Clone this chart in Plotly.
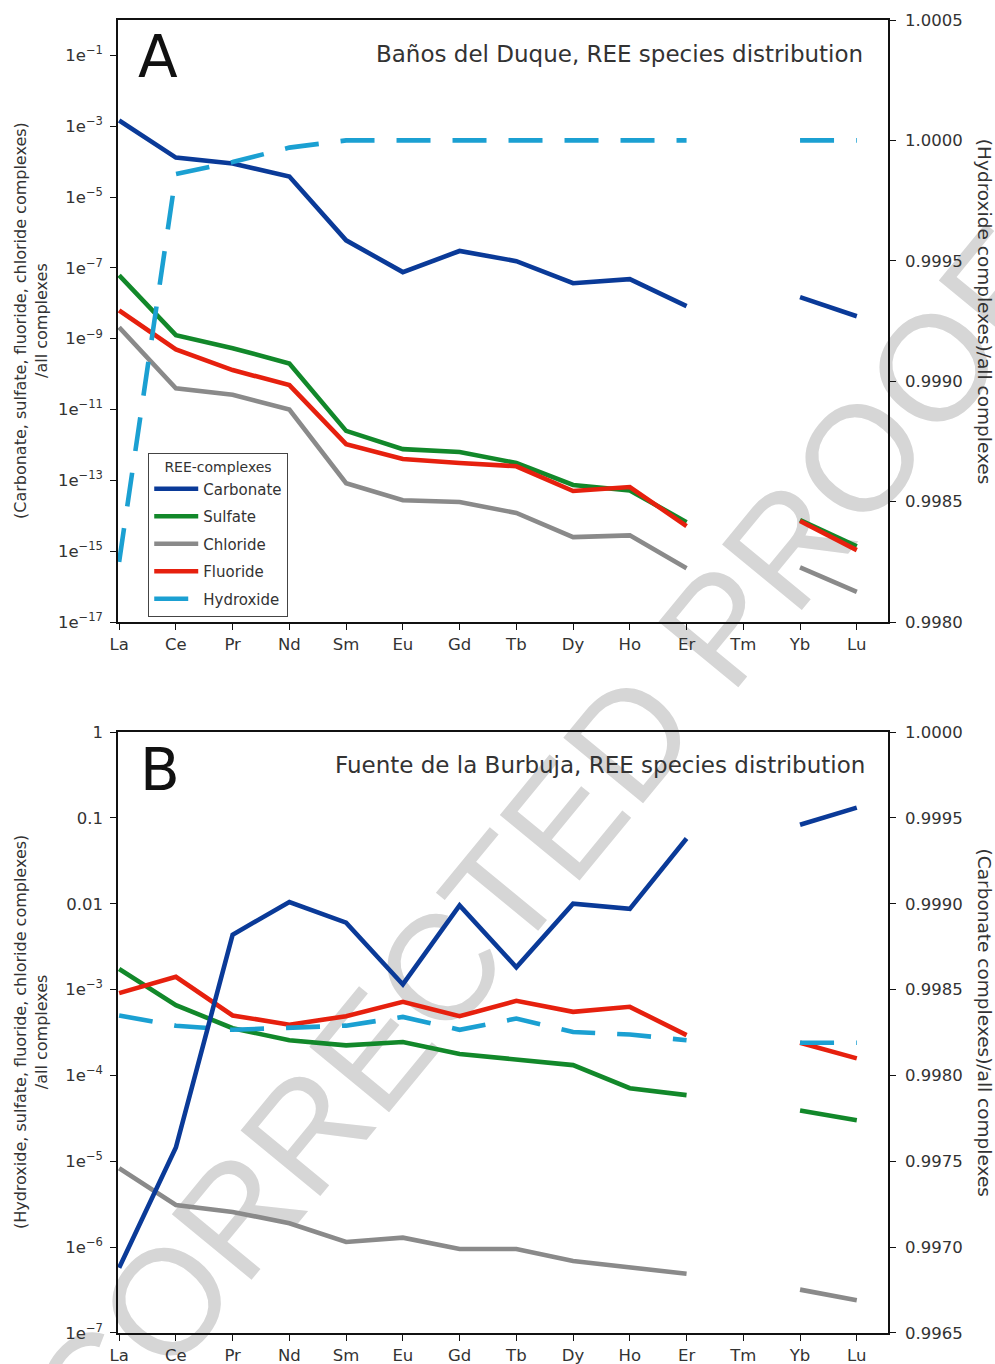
import plotly.graph_objects as go

categories = ["La", "Ce", "Pr", "Nd", "Sm", "Eu", "Gd", "Tb", "Dy", "Ho", "Er", "Tm", "Yb", "Lu"]

# Panel A (Baños del Duque) — left log axis values, Hydroxide on right linear axis
a_carbonate = [1.45e-3, 1.3e-4, 8.9e-5, 3.8e-5, 6.0e-7, 7.6e-8, 3.0e-7, 1.55e-7, 3.7e-8, 4.8e-8, 8.3e-9, None, 1.5e-8, 4.3e-9]
a_sulfate = [6.2e-8, 1.26e-9, 5.4e-10, 2.0e-10, 2.5e-12, 7.6e-13, 6.3e-13, 3.1e-13, 7.4e-14, 5.2e-14, 6.6e-15, None, 7.6e-15, 1.38e-15]
a_chloride = [2.1e-9, 4.0e-11, 2.6e-11, 1.0e-11, 8.3e-14, 2.75e-14, 2.45e-14, 1.2e-14, 2.5e-15, 2.8e-15, 3.3e-16, None, 3.5e-16, 7.1e-17]
a_fluoride = [6.3e-9, 5.0e-10, 1.3e-10, 4.9e-11, 1.05e-12, 4.0e-13, 3.1e-13, 2.5e-13, 5.0e-14, 6.5e-14, 5.1e-15, None, 7.1e-15, 1.07e-15]
a_hydroxide = [0.99825, 0.99986, 0.99991, 0.99997, 1.0, 1.0, 1.0, 1.0, 1.0, 1.0, 1.0, None, 1.0, 1.0]

# Panel B (Fuente de la Burbuja) — left log axis values, Carbonate on right linear axis
b_carbonate = [0.99688, 0.99758, 0.99882, 0.99901, 0.99889, 0.99853, 0.99899, 0.99863, 0.99900, 0.99897, 0.99938, None, 0.99946, 0.99956]
b_sulfate = [1.74e-3, 6.6e-4, 3.55e-4, 2.57e-4, 2.24e-4, 2.45e-4, 1.78e-4, 1.55e-4, 1.32e-4, 7.1e-5, 5.9e-5, None, 3.9e-5, 3.0e-5]
b_chloride = [8.3e-6, 3.1e-6, 2.57e-6, 1.9e-6, 1.15e-6, 1.29e-6, 9.5e-7, 9.5e-7, 6.9e-7, 5.9e-7, 4.9e-7, None, 3.2e-7, 2.4e-7]
b_fluoride = [9.1e-4, 1.41e-3, 5.0e-4, 3.9e-4, 4.9e-4, 7.2e-4, 4.9e-4, 7.4e-4, 5.5e-4, 6.3e-4, 2.95e-4, None, 2.4e-4, 1.58e-4]
b_hydroxide = [5.0e-4, 3.8e-4, 3.4e-4, 3.55e-4, 3.8e-4, 4.8e-4, 3.4e-4, 4.6e-4, 3.2e-4, 3.0e-4, 2.57e-4, None, 2.4e-4, 2.4e-4]

a_left_ticks = [1e-1, 1e-3, 1e-5, 1e-7, 1e-9, 1e-11, 1e-13, 1e-15, 1e-17]
a_left_text = ["1e<sup>−%d</sup>" % k for k in [1, 3, 5, 7, 9, 11, 13, 15, 17]]
a_right_ticks = [0.998, 0.9985, 0.999, 0.9995, 1.0, 1.0005]
b_left_ticks = [1, 0.1, 0.01, 1e-3, 1e-4, 1e-5, 1e-6, 1e-7]
b_left_text = ["1", "0.1", "0.01"] + ["1e<sup>−%d</sup>" % k for k in [3, 4, 5, 6, 7]]
b_right_ticks = [0.9965, 0.997, 0.9975, 0.998, 0.9985, 0.999, 0.9995, 1.0]

C_CARB = "#0a3a98"
C_SULF = "#12882a"
C_CHLO = "#8a8a8a"
C_FLUO = "#e6200e"
C_HYDR = "#1ba0d2"
LW = 4.6
DASH = "34px,22px"
FONT = "DejaVu Sans"
TXT = "#333333"

fig = go.Figure()

def add(y, name, color, xa, ya, dash=None, legend=False):
    fig.add_trace(go.Scatter(
        x=categories, y=y, name=name, mode="lines",
        line=dict(color=color, width=LW, dash=dash),
        connectgaps=False, xaxis=xa, yaxis=ya,
        showlegend=legend, legendgroup=name, hoverinfo="skip"))

# Panel A
add(a_carbonate, "Carbonate", C_CARB, "x", "y", legend=True)
add(a_sulfate, "Sulfate", C_SULF, "x", "y", legend=True)
add(a_chloride, "Chloride", C_CHLO, "x", "y", legend=True)
add(a_fluoride, "Fluoride", C_FLUO, "x", "y", legend=True)
add(a_hydroxide, "Hydroxide", C_HYDR, "x", "y2", dash=DASH, legend=True)
# Panel B
add(b_sulfate, "Sulfate", C_SULF, "x2", "y3")
add(b_chloride, "Chloride", C_CHLO, "x2", "y3")
add(b_fluoride, "Fluoride", C_FLUO, "x2", "y3")
add(b_hydroxide, "Hydroxide", C_HYDR, "x2", "y3", dash=DASH)
add(b_carbonate, "Carbonate", C_CARB, "x2", "y4")

axis_common = dict(showline=True, linecolor="#111111", linewidth=1.5, ticks="outside",
                   ticklen=6, tickwidth=1.3, tickcolor="#111111", showgrid=False, zeroline=False,
                   automargin=False,
                   tickfont=dict(family=FONT, size=16.5, color=TXT))

xcommon = dict(axis_common, type="category", categoryorder="array", categoryarray=categories,
               range=[-0.02, 13.55], mirror=True)

dom_a = [0.5415, 1.0]
dom_b = [0.0, 0.4577]

fig.update_layout(
    width=995, height=1364,
    margin=dict(l=118, r=107, t=20, b=31, autoexpand=False),
    paper_bgcolor="white", plot_bgcolor="rgba(0,0,0,0)",
    font=dict(family=FONT, color=TXT),
    xaxis=dict(xcommon, anchor="y", domain=[0, 1]),
    xaxis2=dict(xcommon, anchor="y3", domain=[0, 1]),
    yaxis=dict(axis_common, type="log", range=[-17, 0], domain=dom_a, anchor="x",
               tickvals=a_left_ticks, ticktext=a_left_text, ticklabelstandoff=4),
    yaxis2=dict(axis_common, range=[0.998, 1.0005], overlaying="y", side="right", anchor="x",
                tickvals=a_right_ticks, tickformat=".4f", ticklabelstandoff=6),
    yaxis3=dict(axis_common, type="log", range=[-7, 0], domain=dom_b, anchor="x2",
                tickvals=b_left_ticks, ticktext=b_left_text, ticklabelstandoff=4),
    yaxis4=dict(axis_common, range=[0.9965, 1.0], overlaying="y3", side="right", anchor="x2",
                tickvals=b_right_ticks, tickformat=".4f", ticklabelstandoff=6),
    legend=dict(x=0.039, y=0.6702, xanchor="left", yanchor="top",
                bgcolor="white", bordercolor="#444444", borderwidth=1.2,
                font=dict(family=FONT, size=15, color=TXT),
                title=dict(text="REE-complexes", font=dict(family=FONT, size=14, color=TXT),
                           side="top center"),
                tracegroupgap=5, traceorder="grouped", itemwidth=44),
)

def ann(text, x, y, size, xanchor="center", yanchor="middle", angle=0):
    fig.add_annotation(text=text, x=x, y=y, xref="paper", yref="paper", showarrow=False,
                       xanchor=xanchor, yanchor=yanchor, textangle=angle,
                       font=dict(family=FONT, size=size, color=TXT if size < 40 else "#111111"))

# Panel letters and titles
ann("A", 0.024, 0.9718, 58, xanchor="left")
ann("B", 0.026, 0.4288, 58, xanchor="left")
ann("Baños del Duque, REE species distribution", 0.970, 0.9741, 23, xanchor="right")
ann("Fuente de la Burbuja, REE species distribution", 0.9727, 0.4326, 23, xanchor="right")

# Axis titles
ann("(Carbonate, sulfate, fluoride, chloride complexes)<br>/all complexes", -0.113, 0.7715, 16, angle=-90)
ann("(Hydroxide complexes)/all complexes", 1.1255, 0.778, 18.5, angle=90)
ann("(Hydroxide, sulfate, fluoride, chloride complexes)<br>/all complexes", -0.113, 0.2292, 16, angle=-90)
ann("(Carbonate complexes)/all complexes", 1.1255, 0.2367, 18.5, angle=90)

# Watermark (drawn beneath the data)
cx, cy = (534 - 118) / 770, 1 - (832 - 20) / 1313
fig.add_shape(type="line", xref="paper", yref="paper",
              x0=cx - 0.01, y0=cy - 0.01, x1=cx + 0.01, y1=cy + 0.01,
              line=dict(color="rgba(0,0,0,0)", width=0), layer="below",
              label=dict(text="CORRECTED PROOF", textangle=-50.6, textposition="middle",
                         xanchor="center", yanchor="middle", padding=0,
                         font=dict(family="Liberation Sans", size=150, color="#d6d6d6")))

fig.write_html("out.html")
